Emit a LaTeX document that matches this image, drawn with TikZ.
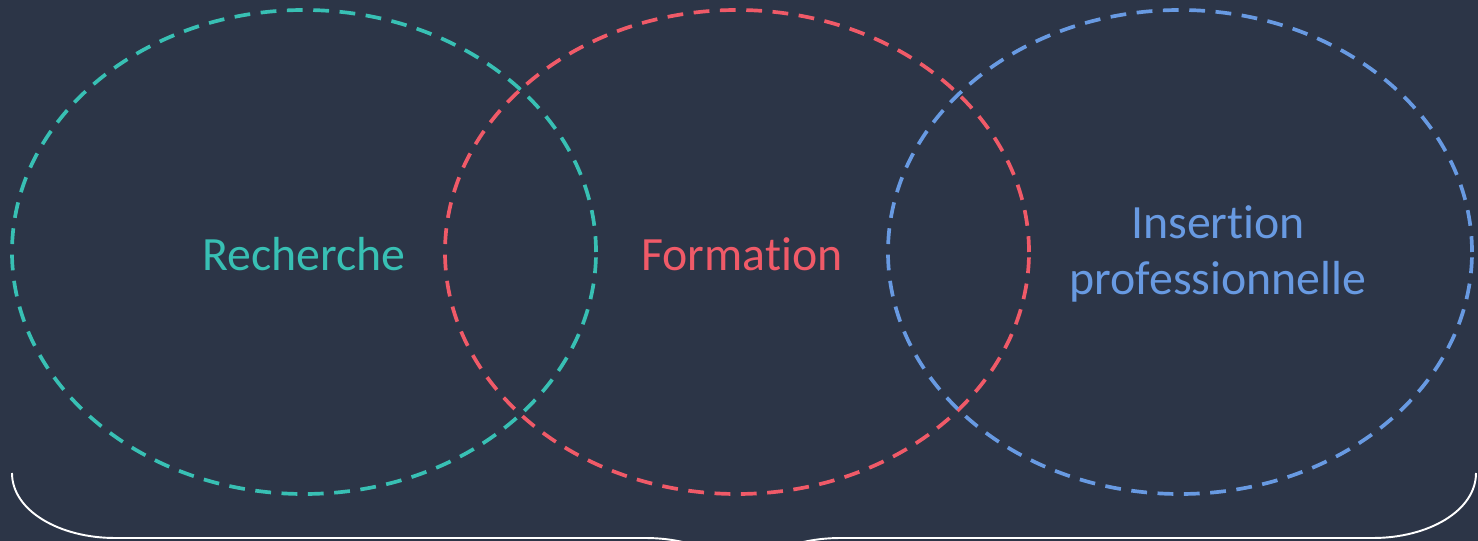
\documentclass[tikz,border=0pt]{standalone}
\usepackage{fontspec}
\setmainfont{Carlito}[Ligatures=NoCommon]
\usepackage{tikz}
\usetikzlibrary{positioning}
\definecolor{navybg}{RGB}{44,53,71}
\definecolor{rechteal}{RGB}{56,192,180}
\definecolor{formred}{RGB}{240,90,104}
\definecolor{insblue}{RGB}{104,154,226}
\tikzset{
  zone/.style={line width=2.1pt,dash pattern=on 9pt off 6pt},
  label/.style={font=\fontsize{27.2}{32}\selectfont,align=center}
}

\begin{document}
\begin{tikzpicture}[x=0.02cm,y=0.02cm]
  \useasboundingbox (0,0) rectangle (1478,541);
  \fill[navybg] (0,0) rectangle (1478,541);
  \clip (0,0) rectangle (1478,541);
  % the three domains
  \foreach \cx/\col in {304/rechteal,737/formred,1180/insblue}{
    \draw[zone,\col] (\cx,289) ellipse (292 and 242);
  }
  \node[label,text=rechteal] (rech) at (304,287) {Recherche};
  \node[label,text=formred] (form) at (742,287) {Formation};
  \node[label,text=insblue] (ins) at (1218,287) {Insertion\\professionnelle};
  % brace below
  \draw[white,line width=1.1pt] (12,68) .. controls (12,30) and (60,3) .. (115,3)
    -- (645,3) .. controls (700,3) and (743,-20) .. (743,-59)
    .. controls (743,-20) and (786,3) .. (841,3)
    -- (1373,3) .. controls (1428,3) and (1476,30) .. (1476,68);
\end{tikzpicture}
\end{document}
